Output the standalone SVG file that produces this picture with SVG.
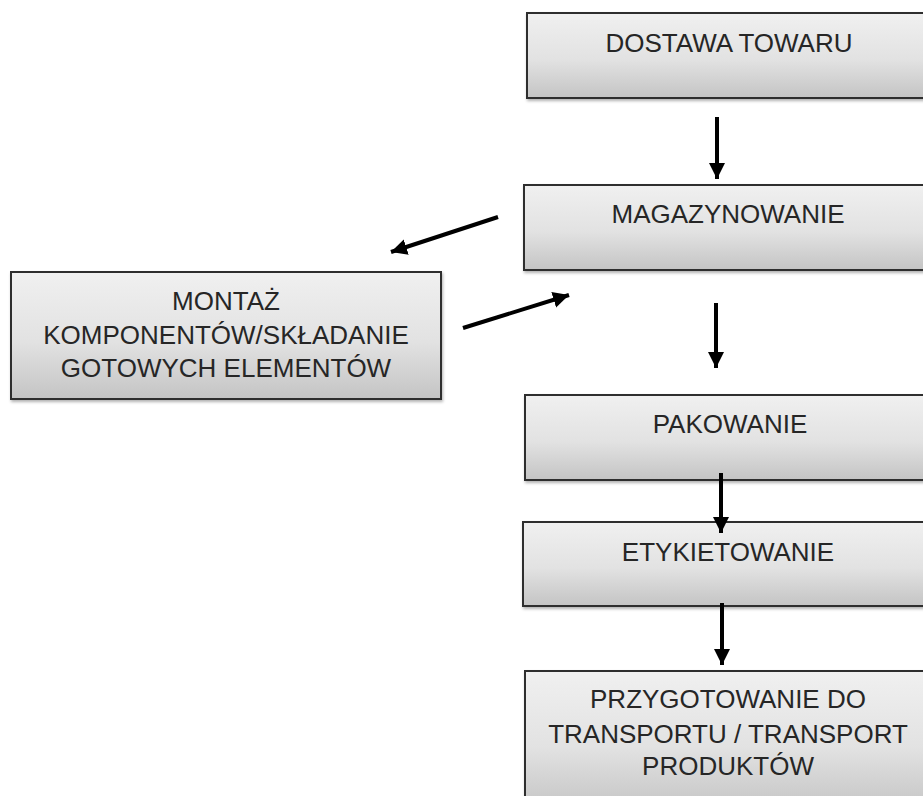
<svg xmlns="http://www.w3.org/2000/svg" width="923" height="796" viewBox="0 0 923 796">
<style>
.box{fill:url(#g);stroke:#2e2e2e;stroke-width:2;filter:url(#sh)}
.t{font-family:"Liberation Sans",Arial,sans-serif;font-size:26px;fill:#262626;text-anchor:middle}
.c{stroke:#000;stroke-width:4;fill:none;marker-end:url(#ah)}
</style>
<defs>
<linearGradient id="g" x1="0" y1="0" x2="0" y2="1">
<stop offset="0" stop-color="#f0f0f0"/>
<stop offset="0.55" stop-color="#e2e2e2"/>
<stop offset="1" stop-color="#c4c4c4"/>
</linearGradient>
<filter id="sh" x="-5%" y="-10%" width="115%" height="130%">
<feDropShadow dx="1" dy="2" stdDeviation="1.5" flood-color="#000" flood-opacity="0.3"/>
</filter>
<marker id="ah" markerUnits="userSpaceOnUse" markerWidth="18" markerHeight="18" viewBox="0 0 18 18" refX="16" refY="9" orient="auto">
<path d="M0,1 L16,9 L0,17 Z" fill="#000"/>
</marker>
</defs>
<g id="n1"><rect class="box" x="527" y="13" width="410" height="85"/><text class="t" x="729" y="52">DOSTAWA TOWARU</text></g>
<g id="n2"><rect class="box" x="524" y="185" width="410" height="85"/><text class="t" x="728" y="223">MAGAZYNOWANIE</text></g>
<g id="n3"><rect class="box" x="11" y="272" width="430" height="127"/><text class="t" x="226" y="310">MONTAŻ</text><text class="t" x="226" y="344">KOMPONENTÓW/SKŁADANIE</text><text class="t" x="226" y="377">GOTOWYCH ELEMENTÓW</text></g>
<g id="n4"><rect class="box" x="525" y="395" width="410" height="85"/><text class="t" x="730" y="433">PAKOWANIE</text></g>
<g id="n5"><rect class="box" x="523" y="522" width="410" height="84"/><text class="t" x="728" y="561">ETYKIETOWANIE</text></g>
<g id="n6"><rect class="box" x="525" y="671" width="410" height="140"/><text class="t" x="728" y="708">PRZYGOTOWANIE DO</text><text class="t" x="728" y="743">TRANSPORTU / TRANSPORT</text><text class="t" x="728" y="775">PRODUKTÓW</text></g>
<g id="connectors">
<line class="c" x1="717" y1="117" x2="717" y2="179"/>
<line class="c" x1="498" y1="217" x2="391" y2="252"/>
<line class="c" x1="463" y1="328" x2="569" y2="295"/>
<line class="c" x1="716" y1="303" x2="716" y2="368"/>
<line class="c" x1="721" y1="473" x2="721" y2="533"/>
<line class="c" x1="722" y1="603" x2="722" y2="665"/>
</g>
</svg>
